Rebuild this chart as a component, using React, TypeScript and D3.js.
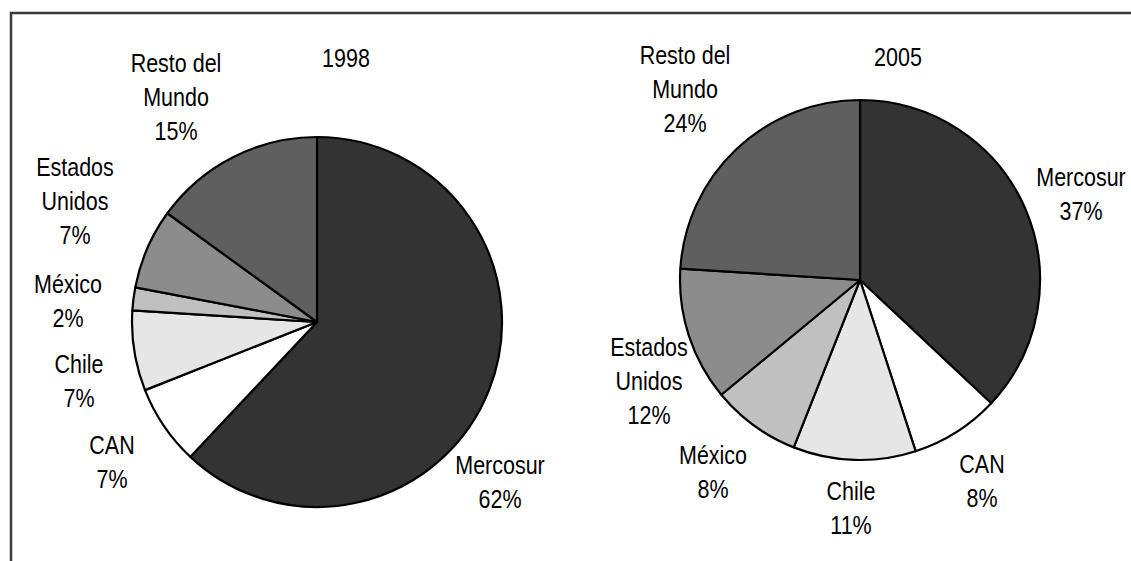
import React from "react";
import * as d3 from "d3";

// ---- data ----
const categories = ["Mercosur", "CAN", "Chile", "México", "Estados Unidos", "Resto del Mundo"];
const labelLines = [["Mercosur"], ["CAN"], ["Chile"], ["México"], ["Estados", "Unidos"], ["Resto del", "Mundo"]];
const years = ["1998", "2005"];
const shares1998 = [62, 7, 7, 2, 7, 15];
const shares2005 = [37, 8, 11, 8, 12, 24];

// ---- styles / layout ----
const colors = ["#333333", "#ffffff", "#e6e6e6", "#c0c0c0", "#8c8c8c", "#5f5f5f"];
const FONT = "'Liberation Sans', Arial, sans-serif";
const FS = 25;
const LH = 34;
const SX = 0.86;

const pies = [
  {
    cx: 317, cy: 322, r: 185, title: { x: 346, y: 58 },
    labels: [[183, 160], [-205, 140], [-238, 59], [-249, -21], [-242, -121], [-141, -225]],
  },
  {
    cx: 860, cy: 280, r: 180, title: { x: 898, y: 57 },
    labels: [[221, -86], [122, 201], [-9, 228], [-147, 192], [-211, 101], [-175, -191]],
  },
];

function Label({ x, y, lines }: { x: number; y: number; lines: string[] }) {
  const n = lines.length;
  return (
    <g>
      {lines.map((t, i) => (
        <text
          key={i}
          transform={`translate(${x},${y + (i - (n - 1) / 2) * LH}) scale(${SX},1)`}
          textAnchor="middle"
          dominantBaseline="central"
          fontFamily={FONT}
          fontSize={FS}
          fill="#000"
        >
          {t}
        </text>
      ))}
    </g>
  );
}

export default function App() {
  const datasets = [shares1998, shares2005];
  const pieGen = d3.pie<number>().sort(null).value((d) => d).startAngle(0).endAngle(2 * Math.PI);
  return (
    <svg
      width={1131}
      height={561}
      style={{ position: "absolute", left: 0, top: 0, background: "#fff" }}
    >
      <rect x={0} y={0} width={1131} height={561} fill="#fff" />
      <rect x={11} y={13} width={1300} height={700} fill="none" stroke="#3a3a3a" strokeWidth={2.5} />
      {pies.map((p, pi) => {
        const arcs = pieGen(datasets[pi]);
        const arcGen = d3.arc<d3.PieArcDatum<number>>().innerRadius(0).outerRadius(p.r);
        return (
          <g key={pi}>
            <g transform={`translate(${p.cx},${p.cy})`}>
              {arcs.map((a, i) => (
                <path
                  key={i}
                  d={arcGen(a) || ""}
                  fill={colors[i]}
                  stroke="#000"
                  strokeWidth={2.2}
                  strokeLinejoin="round"
                />
              ))}
            </g>
            <Label x={p.title.x} y={p.title.y} lines={[years[pi]]} />
            {categories.map((c, i) => (
              <Label
                key={c}
                x={p.cx + p.labels[i][0]}
                y={p.cy + p.labels[i][1]}
                lines={[...labelLines[i], `${datasets[pi][i]}%`]}
              />
            ))}
          </g>
        );
      })}
    </svg>
  );
}
